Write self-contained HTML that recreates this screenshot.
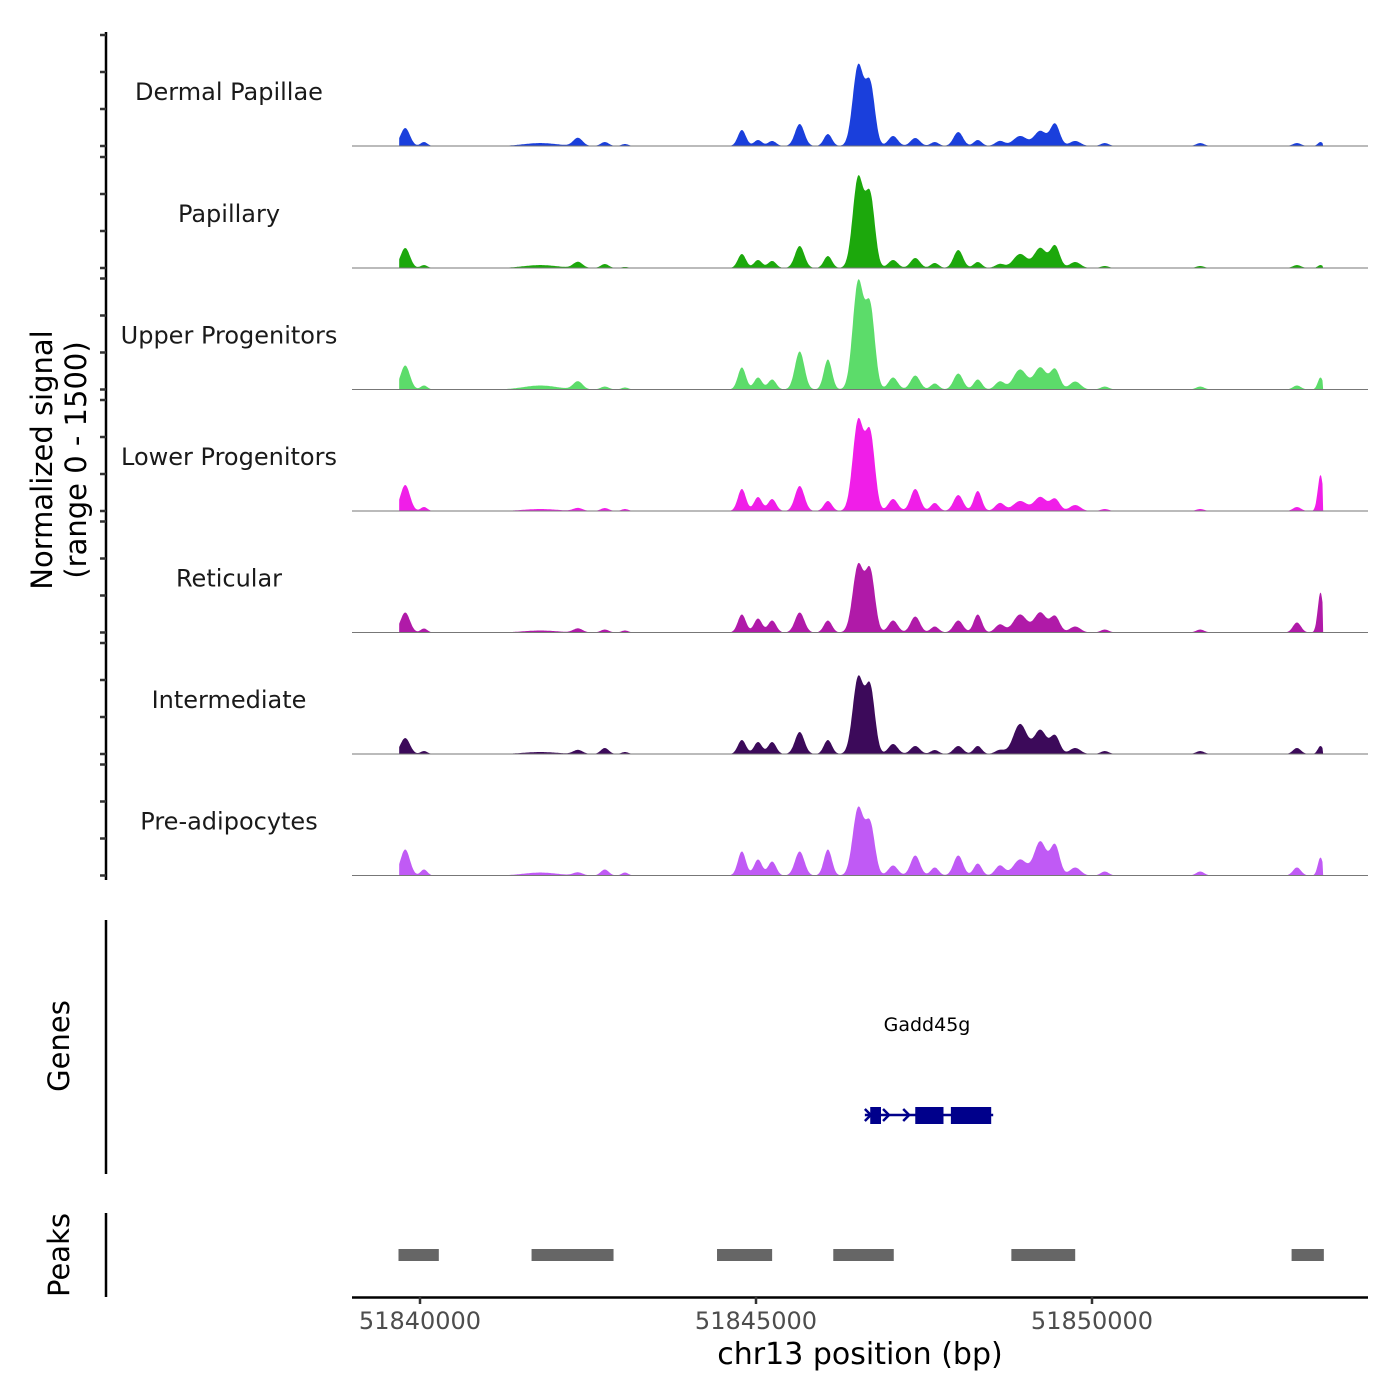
<!DOCTYPE html>
<html><head><meta charset="utf-8"><style>
body{margin:0;background:#fff}
svg{display:block;font-family:"DejaVu Sans","Liberation Sans",sans-serif}
</style></head><body>
<svg id="chart" width="1400" height="1400" viewBox="0 0 1400 1400">
<g id="tracks"></g>
<line x1="106" y1="32" x2="106" y2="880" stroke="#000" stroke-width="2.5"/>
<g id="yticks"></g>
<text transform="translate(52,460) rotate(-90)" text-anchor="middle" font-size="29">Normalized signal</text>
<text transform="translate(86,460) rotate(-90)" text-anchor="middle" font-size="29">(range 0 - 1500)</text>
<line x1="106" y1="920" x2="106" y2="1174" stroke="#000" stroke-width="2.5"/>
<text transform="translate(69,1046) rotate(-90)" text-anchor="middle" font-size="29">Genes</text>
<g id="genes"></g>
<line x1="106" y1="1213" x2="106" y2="1297" stroke="#000" stroke-width="2.5"/>
<text transform="translate(69,1255) rotate(-90)" text-anchor="middle" font-size="29">Peaks</text>
<g id="peaks"></g>
<line x1="352" y1="1297.5" x2="1368" y2="1297.5" stroke="#000" stroke-width="2.5"/>
<g id="xticks"></g>
<text x="860" y="1364" text-anchor="middle" font-size="30">chr13 position (bp)</text>
</svg>
<script>
const NS="http://www.w3.org/2000/svg";
const trackNames=["Dermal Papillae","Papillary","Upper Progenitors","Lower Progenitors","Reticular","Intermediate","Pre-adipocytes"];
const trackColors=["#1a3fdc","#1ca80c","#5cdc6a","#f01ee8","#b01aa8","#3c0a5a","#c05af5"];
const peakPos=[51839.78,51840.06,51841.79,51842.35,51842.75,51843.05,51844.79,51845.03,51845.24,51845.65,51846.07,51846.52,51846.70,51847.04,51847.37,51847.66,51848.01,51848.30,51848.63,51848.93,51849.23,51849.45,51849.75,51850.19,51851.61,51853.05,51853.40];
const peakWidth=[0.07,0.05,0.25,0.07,0.06,0.05,0.06,0.06,0.06,0.07,0.06,0.08,0.07,0.07,0.07,0.06,0.07,0.06,0.07,0.1,0.09,0.07,0.08,0.06,0.06,0.06,0.04];
const sigDermal=[243,54,40,108,54,27,216,81,68,297,162,1080,810,135,108,54,189,81,68,135,203,297,68,40,40,40,54];
const sigPapillary=[270,40,40,81,54,14,189,108,95,297,162,1215,945,108,135,68,243,81,54,189,270,297,81,27,27,40,40];
const sigUpper=[324,54,54,108,40,27,297,162,135,513,405,1445,1080,162,189,81,216,135,108,270,297,270,108,40,40,54,162];
const sigLower=[351,54,27,40,40,27,297,189,162,338,135,1215,1013,162,297,108,216,270,108,135,189,162,81,27,27,54,486];
const sigReticular=[270,54,27,54,40,27,243,189,162,270,162,905,810,162,216,81,162,243,108,243,270,216,81,40,40,135,540];
const sigIntermediate=[216,40,27,54,81,27,189,162,162,297,189,1026,878,135,108,54,108,108,54,405,324,243,81,40,40,81,108];
const sigPreadipo=[351,81,40,40,81,40,324,216,189,324,351,905,675,135,270,108,270,162,135,216,459,405,108,54,54,108,243];
const trackSignals=[sigDermal,sigPapillary,sigUpper,sigLower,sigReticular,sigIntermediate,sigPreadipo];
const yTicks=[0,500,1000,1500];
const xTickVals=[51840000,51845000,51850000];
const peakRegions=[[51839.68,51840.28],[51841.66,51842.88],[51844.42,51845.24],[51846.15,51847.05],[51848.80,51849.75],[51852.97,51853.45]];
const geneExons=[[51846.70,51846.86],[51847.37,51847.79],[51847.90,51848.50]];
const geneSpan=[51846.62,51848.50];
const dataStart=51839.69, dataEnd=51853.44;

const xScale=kb=>420+(kb-51840)*67.2;
const baselines=[146,268,389.5,511,632.5,754,875.5];
const yScale=(v,b)=>b-v*111/1500;

const tracks=document.getElementById('tracks');
const yt=document.getElementById('yticks');
trackNames.forEach((name,i)=>{
  const b=baselines[i], sig=trackSignals[i];
  let d=`M${xScale(dataStart)},${b}`;
  for(let kb=dataStart;kb<=dataEnd;kb+=0.01){
    let v=0;
    peakPos.forEach((p,j)=>{const z=(kb-p)/peakWidth[j];v+=sig[j]*Math.exp(-0.5*z*z);});
    d+=` L${xScale(kb).toFixed(1)},${yScale(Math.min(v,1500),b).toFixed(1)}`;
  }
  d+=` L${xScale(dataEnd)},${b} Z`;
  const path=document.createElementNS(NS,'path');
  path.setAttribute('d',d);path.setAttribute('fill',trackColors[i]);
  
  
  tracks.appendChild(path);
  const base=document.createElementNS(NS,'line');
  base.setAttribute('x1',352);base.setAttribute('x2',1368);base.setAttribute('y1',b);base.setAttribute('y2',b);
  base.setAttribute('stroke','#777');base.setAttribute('stroke-width','1');
  
  
  tracks.appendChild(base);
  const t=document.createElementNS(NS,'text');
  t.setAttribute('x',229);t.setAttribute('y',b-46);t.setAttribute('text-anchor','middle');t.setAttribute('font-size','24');t.setAttribute('fill','#1a1a1a');
  t.textContent=name;
  
  
  tracks.appendChild(t);
  yTicks.forEach(v=>{
    const l=document.createElementNS(NS,'line');
    const y=yScale(v,b);
    l.setAttribute('x1',100);l.setAttribute('x2',106);l.setAttribute('y1',y);l.setAttribute('y2',y);
    l.setAttribute('stroke','#333');l.setAttribute('stroke-width','2.5');
    
    
    yt.appendChild(l);
  });
});

// genes
const g=document.getElementById('genes');
const gl=document.createElementNS(NS,'line');
gl.setAttribute('x1',xScale(geneSpan[0]));gl.setAttribute('x2',xScale(geneSpan[1])+2);gl.setAttribute('y1',1115);gl.setAttribute('y2',1115);
gl.setAttribute('stroke','#00008b');gl.setAttribute('stroke-width','2.5');


g.appendChild(gl);
geneExons.forEach(e=>{
  const r=document.createElementNS(NS,'rect');
  r.setAttribute('x',xScale(e[0]));r.setAttribute('width',xScale(e[1])-xScale(e[0]));r.setAttribute('y',1107);r.setAttribute('height',17);r.setAttribute('fill','#00008b');
  
  
  g.appendChild(r);
});
[xScale(geneSpan[0])+4,xScale(51846.95),xScale(51847.25)].forEach(x=>{
  const a=document.createElementNS(NS,'path');
  a.setAttribute('d',`M${x-4},${1109} L${x+2},1115 L${x-4},1121`);a.setAttribute('stroke','#00008b');a.setAttribute('stroke-width','2.5');a.setAttribute('fill','none');
  
  
  g.appendChild(a);
});
const gt=document.createElementNS(NS,'text');
gt.setAttribute('x',927);gt.setAttribute('y',1031);gt.setAttribute('text-anchor','middle');gt.setAttribute('font-size','19');
gt.textContent='Gadd45g';


g.appendChild(gt);

// peaks
const pk=document.getElementById('peaks');
peakRegions.forEach(p=>{
  const r=document.createElementNS(NS,'rect');
  r.setAttribute('x',xScale(p[0]));r.setAttribute('width',xScale(p[1])-xScale(p[0]));r.setAttribute('y',1249);r.setAttribute('height',12);r.setAttribute('fill','#666');
  
  
  pk.appendChild(r);
});

// x ticks
const xt=document.getElementById('xticks');
xTickVals.forEach(v=>{
  const x=xScale(v/1000);
  const l=document.createElementNS(NS,'line');
  l.setAttribute('x1',x);l.setAttribute('x2',x);l.setAttribute('y1',1297);l.setAttribute('y2',1304);l.setAttribute('stroke','#333');l.setAttribute('stroke-width','2.5');
  
  
  xt.appendChild(l);
  const t=document.createElementNS(NS,'text');
  t.setAttribute('x',x);t.setAttribute('y',1329);t.setAttribute('text-anchor','middle');t.setAttribute('font-size','24');t.setAttribute('fill','#4d4d4d');
  t.textContent=String(v);
  
  
  xt.appendChild(t);
});
</script>
</body></html>
